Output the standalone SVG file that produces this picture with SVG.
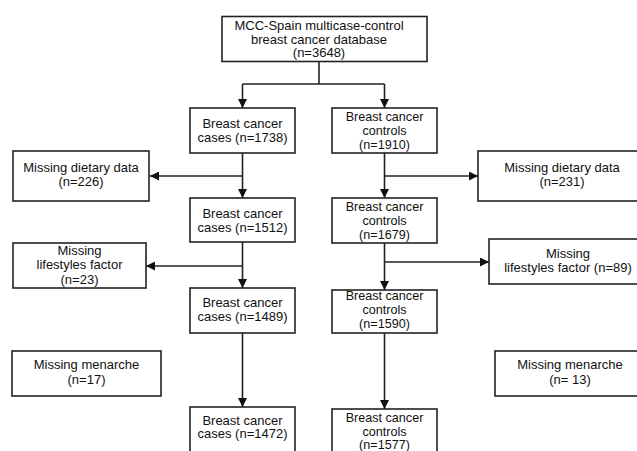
<svg xmlns="http://www.w3.org/2000/svg" width="637" height="451" viewBox="0 0 637 451">
<defs>
<style>
.box{fill:#fff;stroke:#222;stroke-width:1.6}
.t{font-family:"Liberation Sans",Arial,sans-serif;font-size:13px;fill:#111;text-anchor:middle}
.t3{font-size:12.6px}
.c{fill:none;stroke:#222;stroke-width:1.6}
</style>
<marker id="ah" viewBox="0 0 10 10" refX="10" refY="5" markerWidth="9" markerHeight="9" markerUnits="userSpaceOnUse" orient="auto">
<path d="M0,0 L10,5 L0,10 z" fill="#111"/>
</marker>
</defs>
<rect width="637" height="451" fill="#fff"/>
<g id="connectors">
<path class="c" d="M319,62 V84"/>
<path class="c" d="M242.5,84 H384.5"/>
<path class="c" d="M242.5,84 V108" marker-end="url(#ah)"/>
<path class="c" d="M384.5,84 V108" marker-end="url(#ah)"/>
<path class="c" d="M242.5,153 V198" marker-end="url(#ah)"/>
<path class="c" d="M242.5,176 H150" marker-end="url(#ah)"/>
<path class="c" d="M242.5,242 V288" marker-end="url(#ah)"/>
<path class="c" d="M242.5,266 H146" marker-end="url(#ah)"/>
<path class="c" d="M242.5,333 V407" marker-end="url(#ah)"/>
<path class="c" d="M384.5,153 V198" marker-end="url(#ah)"/>
<path class="c" d="M384.5,176 H478" marker-end="url(#ah)"/>
<path class="c" d="M384.5,243 V290" marker-end="url(#ah)"/>
<path class="c" d="M384.5,262 H489" marker-end="url(#ah)"/>
<path class="c" d="M384.5,333 V409" marker-end="url(#ah)"/>
</g>
<g id="database">
<rect class="box" x="222" y="16.5" width="205" height="45"/>
<text class="t" x="319" y="29.5">MCC-Spain multicase-control</text>
<text class="t" x="319" y="43.5">breast cancer database</text>
<text class="t" x="319" y="57">(n=3648)</text>
</g>
<g id="cases1">
<rect class="box" x="190" y="108" width="105" height="45"/>
<text class="t" x="242.5" y="128">Breast cancer</text>
<text class="t" x="242.5" y="142">cases (n=1738)</text>
</g>
<g id="controls1">
<rect class="box" x="332" y="108" width="105" height="45"/>
<text class="t t3" x="384.5" y="120.5">Breast cancer</text>
<text class="t t3" x="384.5" y="134.5">controls</text>
<text class="t t3" x="384.5" y="148.5">(n=1910)</text>
</g>
<g id="missingDietaryCases">
<rect class="box" x="13" y="151" width="136" height="50"/>
<text class="t" x="81" y="171.5">Missing dietary data</text>
<text class="t" x="81" y="186">(n=226)</text>
</g>
<g id="missingDietaryControls">
<rect class="box" x="478" y="151" width="170" height="50"/>
<text class="t" x="562" y="171.5">Missing dietary data</text>
<text class="t" x="562" y="186">(n=231)</text>
</g>
<g id="cases2">
<rect class="box" x="190" y="198" width="105" height="44"/>
<text class="t" x="242.5" y="218">Breast cancer</text>
<text class="t" x="242.5" y="231.5">cases (n=1512)</text>
</g>
<g id="controls2">
<rect class="box" x="332" y="198" width="105" height="45"/>
<text class="t t3" x="384.5" y="210.5">Breast cancer</text>
<text class="t t3" x="384.5" y="224.5">controls</text>
<text class="t t3" x="384.5" y="238.5">(n=1679)</text>
</g>
<g id="missingLifestyleCases">
<rect class="box" x="13" y="243" width="133" height="45"/>
<text class="t" x="79.5" y="254.5">Missing</text>
<text class="t" x="79.5" y="269">lifestyles factor</text>
<text class="t" x="79.5" y="283.5">(n=23)</text>
</g>
<g id="missingLifestyleControls">
<rect class="box" x="489" y="239" width="160" height="45"/>
<text class="t" x="568" y="258">Missing</text>
<text class="t" x="568" y="272">lifestyles factor (n=89)</text>
</g>
<g id="cases3">
<rect class="box" x="190" y="288" width="105" height="45"/>
<text class="t" x="242.5" y="307">Breast cancer</text>
<text class="t" x="242.5" y="320.5">cases (n=1489)</text>
</g>
<g id="controls3">
<rect class="box" x="332" y="290" width="105" height="43"/>
<text class="t t3" x="384.5" y="300">Breast cancer</text>
<text class="t t3" x="384.5" y="314">controls</text>
<text class="t t3" x="384.5" y="328">(n=1590)</text>
</g>
<g id="missingMenarcheCases">
<rect class="box" x="12" y="351" width="149" height="45"/>
<text class="t" x="86.5" y="368.5">Missing menarche</text>
<text class="t" x="86.5" y="383.5">(n=17)</text>
</g>
<g id="missingMenarcheControls">
<rect class="box" x="495" y="351" width="150" height="45"/>
<text class="t" x="570" y="368.5">Missing menarche</text>
<text class="t" x="570" y="383.5">(n= 13)</text>
</g>
<g id="cases4">
<rect class="box" x="190" y="407" width="105" height="46"/>
<text class="t" x="242.5" y="424.5">Breast cancer</text>
<text class="t" x="242.5" y="438">cases (n=1472)</text>
</g>
<g id="controls4">
<rect class="box" x="332" y="409" width="105" height="46"/>
<text class="t t3" x="384.5" y="422">Breast cancer</text>
<text class="t t3" x="384.5" y="435.5">controls</text>
<text class="t t3" x="384.5" y="449">(n=1577)</text>
</g>
</svg>
